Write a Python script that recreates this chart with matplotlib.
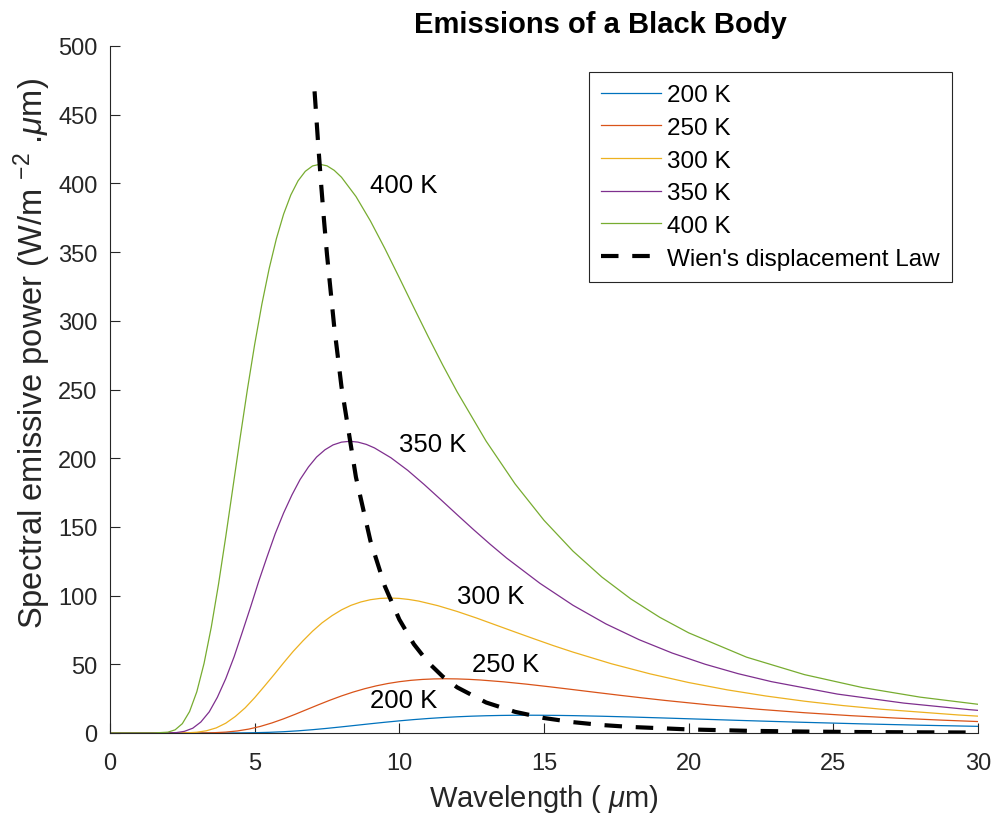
import numpy as np
import matplotlib
matplotlib.use("Agg")
import matplotlib.pyplot as plt

plt.rcParams['font.family'] = ['Liberation Sans', 'DejaVu Sans']
plt.rcParams['mathtext.fontset'] = 'custom'
plt.rcParams['mathtext.rm'] = 'Liberation Sans'
plt.rcParams['mathtext.it'] = 'Liberation Sans:italic'

# valores (longitud de onda en um, potencia en W/m2.um)
lam_400 = [0, 1, 1.5, 2, 2.25, 2.5, 2.75, 3, 3.25, 3.5, 3.75, 4, 4.25, 4.5, 4.75, 5,
           5.25, 5.5, 5.75, 6, 6.25, 6.5, 6.75, 7, 7.25, 7.5, 7.75, 8, 8.5, 9, 9.5, 10,
           10.5, 11, 11.5, 12, 13, 14, 15, 16, 17, 18, 19, 20, 22, 24, 26, 28, 30]
E_400 = [0, 0, 0.0, 0.6, 2.3, 6.8, 15.6, 30.0, 50.6, 77.0, 108.2, 142.8, 179.0, 215.2, 250.2, 282.8,
         312.2, 337.9, 359.7, 377.6, 391.6, 401.9, 408.8, 412.7, 413.9, 412.8, 409.5, 404.5, 390.5, 372.7, 352.6, 331.3,
         309.7, 288.4, 267.8, 248.2, 212.4, 181.3, 154.8, 132.4, 113.5, 97.6, 84.2, 72.9, 55.2, 42.5, 33.1, 26.1, 20.9]

lam_350 = [0, 1, 1.71, 2.29, 2.57, 2.86, 3.14, 3.43, 3.71, 4.0, 4.29, 4.57, 4.86, 5.14, 5.43, 5.71,
           6.0, 6.29, 6.57, 6.86, 7.14, 7.43, 7.71, 8.0, 8.29, 8.57, 8.86, 9.14, 9.71, 10.29, 10.86, 11.43,
           12.0, 12.57, 13.14, 13.71, 14.86, 16.0, 17.14, 18.29, 19.43, 20.57, 21.71, 22.86, 25.14, 27.43, 29.71, 30]
E_350 = [0, 0, 0.0, 0.29, 1.19, 3.48, 8.0, 15.4, 25.95, 39.51, 55.52, 73.22, 91.79, 110.39, 128.32, 145.04,
         160.12, 173.31, 184.48, 193.65, 200.84, 206.13, 209.68, 211.69, 212.31, 211.71, 210.04, 207.49, 200.31, 191.16, 180.83, 169.91,
         158.84, 147.92, 137.36, 127.29, 108.93, 92.99, 79.40, 67.89, 58.19, 50.04, 43.17, 37.38, 28.33, 21.78, 16.98, 16.47]

lam_300 = [0, 1, 2.0, 2.67, 3.0, 3.33, 3.67, 4.0, 4.33, 4.67, 5.0, 5.33, 5.67, 6.0, 6.33, 6.67,
           7.0, 7.33, 7.67, 8.0, 8.33, 8.67, 9.0, 9.33, 9.67, 10.0, 10.33, 10.67, 11.33, 12.0, 12.67, 13.33,
           14.0, 14.67, 15.33, 16.0, 17.33, 18.67, 20.0, 21.33, 22.67, 24.0, 25.33, 26.67, 29.33, 30]
E_300 = [0, 0, 0.0, 0.13, 0.55, 1.61, 3.70, 7.12, 12.01, 18.28, 25.69, 33.88, 42.47, 51.07, 59.37, 67.10,
         74.08, 80.19, 85.35, 89.60, 92.92, 95.37, 97.01, 97.94, 98.23, 97.95, 97.18, 96.00, 92.68, 88.44, 83.66, 78.61,
         73.49, 68.44, 63.55, 58.89, 50.40, 43.02, 36.73, 31.41, 26.92, 23.15, 19.97, 17.29, 13.11, 12.26]

lam_250 = [0, 1, 2.4, 3.2, 3.6, 4.0, 4.4, 4.8, 5.2, 5.6, 6.0, 6.4, 6.8, 7.2, 7.6, 8.0,
           8.4, 8.8, 9.2, 9.6, 10.0, 10.4, 10.8, 11.2, 11.6, 12.0, 12.4, 12.8, 13.6, 14.4, 15.2, 16.0,
           16.8, 17.6, 18.4, 19.2, 20.8, 22.4, 24.0, 25.6, 27.2, 28.8, 30]
E_250 = [0, 0, 0.0, 0.05, 0.22, 0.65, 1.49, 2.86, 4.82, 7.35, 10.32, 13.61, 17.07, 20.52, 23.86, 26.97,
         29.77, 32.22, 34.30, 36.01, 37.34, 38.33, 38.99, 39.36, 39.48, 39.36, 39.05, 38.58, 37.24, 35.54, 33.62, 31.59,
         29.53, 27.50, 25.54, 23.67, 20.25, 17.29, 14.76, 12.62, 10.82, 9.31, 8.33]

lam_200 = [0, 1, 3, 4, 4.5, 5, 5.5, 6, 6.5, 7, 7.5, 8, 8.5, 9, 9.5, 10,
           10.5, 11, 11.5, 12, 12.5, 13, 13.5, 14, 14.5, 15, 15.5, 16, 17, 18, 19, 20,
           21, 22, 23, 24, 26, 28, 30]
E_200 = [0, 0, 0.0, 0.02, 0.07, 0.21, 0.49, 0.94, 1.58, 2.41, 3.38, 4.46, 5.59, 6.73, 7.82, 8.84,
         9.76, 10.56, 11.24, 11.80, 12.24, 12.56, 12.78, 12.90, 12.94, 12.90, 12.80, 12.64, 12.20, 11.65, 11.02, 10.35,
         9.68, 9.01, 8.37, 7.76, 6.64, 5.67, 4.84]

# ley de desplazamiento de Wien (lugar de los maximos)
lam_wien = [7.07, 7.1, 7.2, 7.3, 7.4, 7.5, 7.75, 8, 8.5, 9, 9.5, 10, 10.5, 11, 11.5, 12,
            13, 14, 15, 16, 17, 18, 20, 22, 24, 26, 28, 30]
E_wien = [467, 457.9, 427.0, 398.6, 372.3, 348.2, 295.5, 252.1, 186.2, 139.9, 106.8, 82.6, 64.7, 51.3, 41.1, 33.2,
          22.2, 15.4, 10.9, 7.9, 5.8, 4.4, 2.6, 1.6, 1.04, 0.69, 0.48, 0.34]

series = [("200 K", lam_200, E_200), ("250 K", lam_250, E_250), ("300 K", lam_300, E_300),
          ("350 K", lam_350, E_350), ("400 K", lam_400, E_400)]
colores = ["#0072BD", "#D95319", "#EDB120", "#7E2F8E", "#77AC30"]

# posicion de las etiquetas sobre las curvas
etiquetas = {"400 K": (9.0, 399), "350 K": (10.0, 210), "300 K": (12.0, 100),
             "250 K": (12.5, 50), "200 K": (9.0, 24)}

fig = plt.figure(figsize=(9.95, 8.2), dpi=100)
ax = fig.add_axes([110/995, 86/820, 868/995, 687/820])

for (nombre, x, y), c in zip(series, colores):
    ax.plot(x, y, color=c, lw=0.9, label=nombre)
ax.plot(lam_wien, E_wien, color="black", lw=3, dashes=(4.2, 3.3), label="Wien's displacement Law")

for nombre, (tx, ty) in etiquetas.items():
    ax.text(tx, ty, nombre, fontsize=18.5, ha="left", va="center")

ax.set_xlim(0, 30)
ax.set_ylim(0, 500)
ax.set_xticks(np.arange(0, 31, 5))
ax.set_yticks(np.arange(0, 501, 50))

gris = "#262626"
for s in ["top", "right"]:
    ax.spines[s].set_visible(False)
for s in ["left", "bottom"]:
    ax.spines[s].set_color(gris)
    ax.spines[s].set_linewidth(0.8)
ax.tick_params(direction="in", length=7, width=0.8, colors=gris, labelsize=17)
ax.tick_params(axis="x", pad=14)
ax.tick_params(axis="y", pad=9)

ax.set_xlabel("Wavelength ( $\\mu$m)", fontsize=21, color=gris)
ax.xaxis.set_label_coords(0.5, -0.072)
ax.set_ylabel("Spectral emissive power (W/m $^{-2}$ .$\\mu$m)", fontsize=23.5, color=gris)
ax.yaxis.set_label_coords(-0.066, 0.554)

fig.text(600/995, 1 - 25/820, "Emissions of a Black Body", fontsize=21, fontweight="bold",
         ha="center", va="center")

leg = ax.legend(loc="upper right", bbox_to_anchor=(952/995, 1 - 73/820), bbox_transform=fig.transFigure,
                borderaxespad=0, fontsize=17.5, fancybox=False, framealpha=1, edgecolor=gris,
                handlelength=2.47, labelspacing=0.44, borderpad=0.5, handletextpad=0.25)
leg.get_frame().set_linewidth(0.8)

plt.savefig("out.png", dpi=100)
